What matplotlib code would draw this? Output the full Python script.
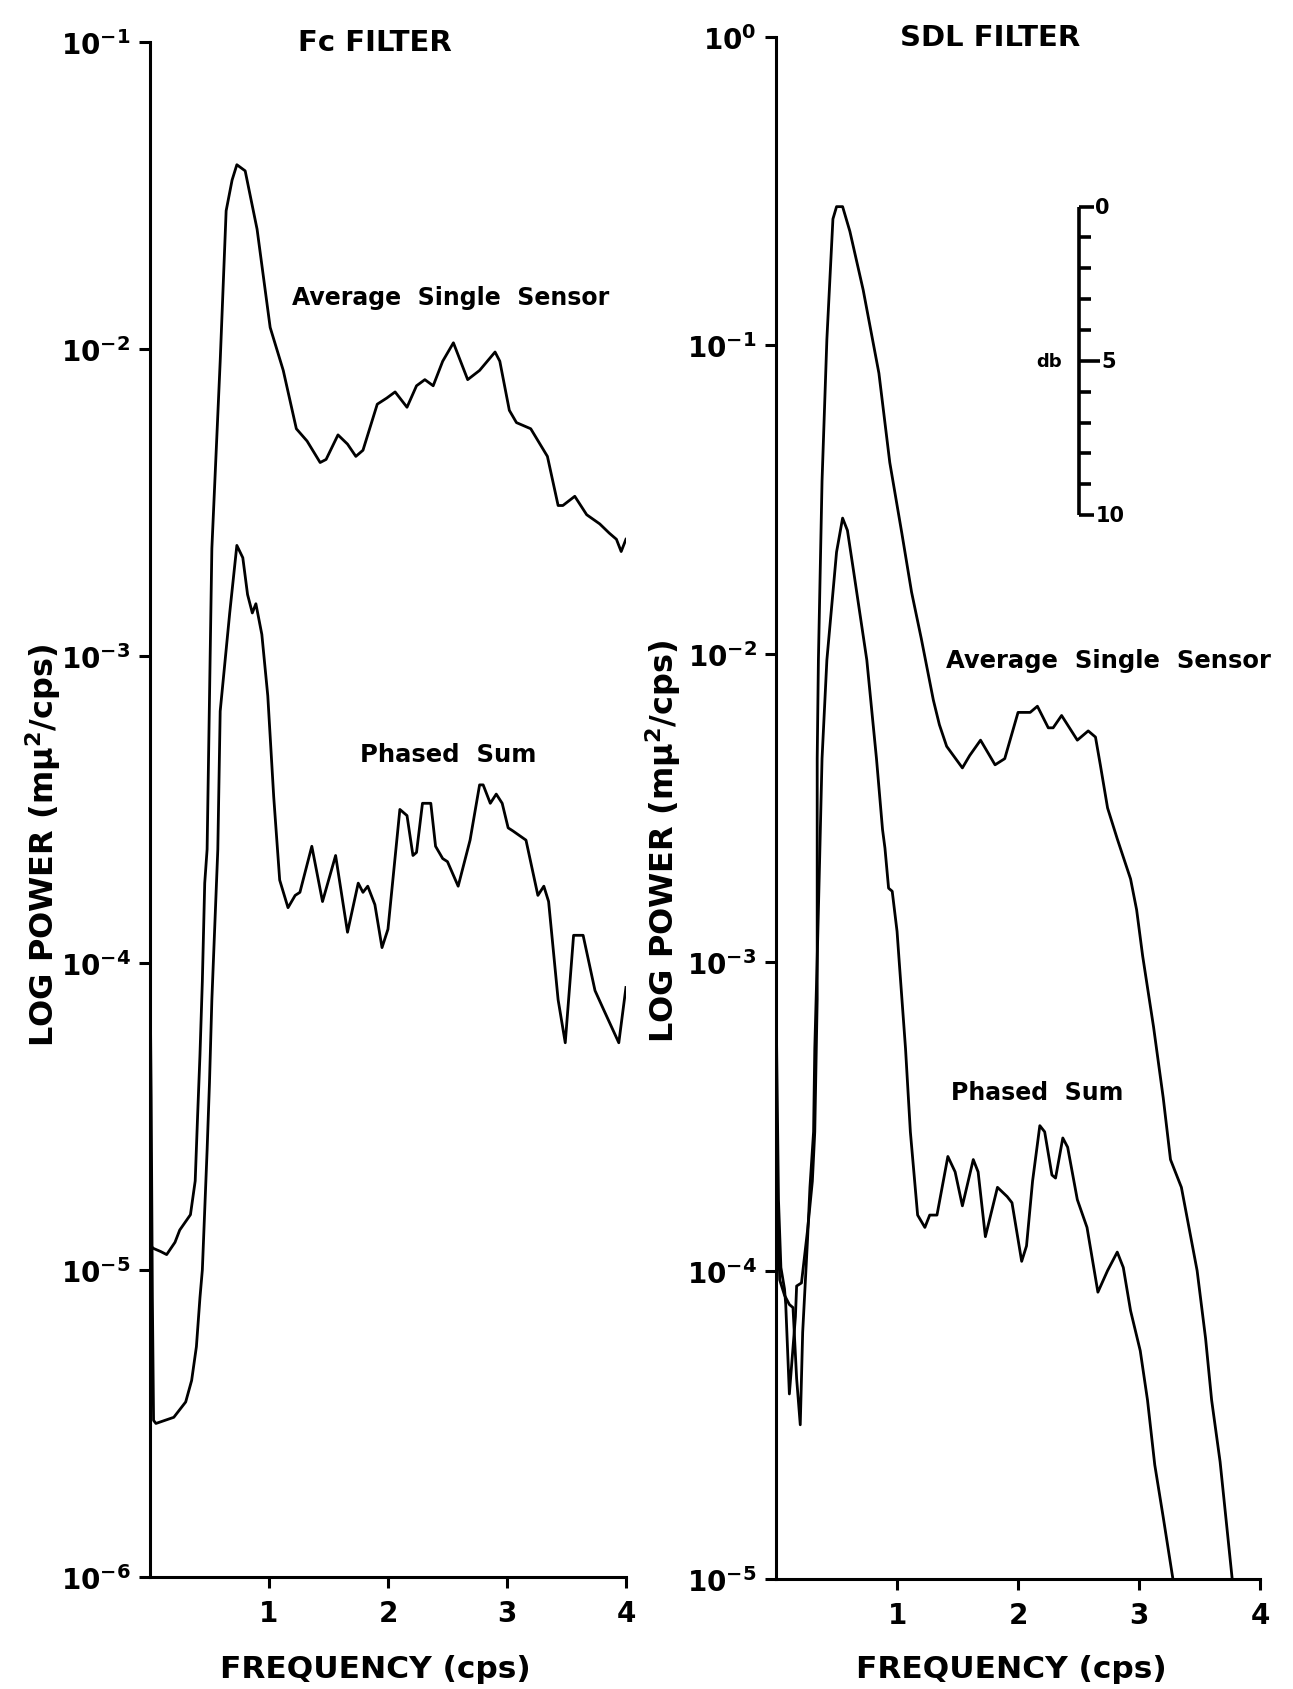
import numpy as np
import matplotlib
matplotlib.use("Agg")
import matplotlib.pyplot as plt

plt.rcParams['font.family'] = ['DejaVu Sans']
plt.rcParams['font.weight'] = 'bold'
plt.rcParams['mathtext.default'] = 'bf'

# Fc filter, average single sensor: frequency (cps) and log10 power
fc_single_freq = [0.00, 0.03, 0.09, 0.14, 0.21, 0.25, 0.34, 0.38, 0.40, 0.42,
                  0.44, 0.46, 0.48, 0.50, 0.52, 0.59, 0.64, 0.69, 0.73, 0.80,
                  0.90, 1.01, 1.12, 1.23, 1.32, 1.43, 1.48, 1.58, 1.66, 1.73,
                  1.79, 1.91, 1.99, 2.06, 2.16, 2.24, 2.31, 2.38, 2.46, 2.55,
                  2.67, 2.77, 2.90, 2.94, 3.02, 3.08, 3.20, 3.34, 3.43, 3.47,
                  3.57, 3.67, 3.78, 3.86, 3.92, 3.96, 4.00]
fc_single_logp = [-4.92, -4.93, -4.94, -4.95, -4.91, -4.87, -4.82, -4.71, -4.50, -4.30,
                  -4.06, -3.74, -3.63, -3.14, -2.65, -2.04, -1.55, -1.45, -1.40, -1.42,
                  -1.61, -1.93, -2.07, -2.26, -2.30, -2.37, -2.36, -2.28, -2.31, -2.35,
                  -2.33, -2.18, -2.16, -2.14, -2.19, -2.12, -2.10, -2.12, -2.04, -1.98,
                  -2.10, -2.07, -2.01, -2.04, -2.20, -2.24, -2.26, -2.35, -2.51, -2.51,
                  -2.48, -2.54, -2.57, -2.60, -2.62, -2.66, -2.62]

# Fc filter, phased sum
fc_phased_freq = [0.00, 0.01, 0.02, 0.03, 0.05, 0.20, 0.30, 0.35, 0.39, 0.42,
                  0.44, 0.48, 0.50, 0.52, 0.57, 0.59, 0.67, 0.73, 0.78, 0.82,
                  0.86, 0.89, 0.94, 0.99, 1.04, 1.09, 1.16, 1.22, 1.26, 1.36,
                  1.45, 1.56, 1.66, 1.75, 1.79, 1.83, 1.89, 1.95, 2.00, 2.10,
                  2.16, 2.21, 2.24, 2.29, 2.36, 2.40, 2.46, 2.50, 2.59, 2.69,
                  2.77, 2.80, 2.86, 2.91, 2.96, 3.01, 3.05, 3.16, 3.26, 3.31,
                  3.35, 3.43, 3.49, 3.56, 3.64, 3.74, 3.81, 3.94, 4.00]
fc_phased_logp = [-4.00, -4.44, -5.09, -5.49, -5.50, -5.48, -5.43, -5.36, -5.25, -5.09,
                  -5.00, -4.61, -4.39, -4.12, -3.63, -3.18, -2.86, -2.64, -2.68, -2.80,
                  -2.86, -2.83, -2.93, -3.13, -3.46, -3.73, -3.82, -3.78, -3.77, -3.62,
                  -3.80, -3.65, -3.90, -3.74, -3.77, -3.75, -3.81, -3.95, -3.89, -3.50,
                  -3.52, -3.65, -3.64, -3.48, -3.48, -3.62, -3.66, -3.67, -3.75, -3.60,
                  -3.42, -3.42, -3.48, -3.45, -3.48, -3.56, -3.57, -3.60, -3.78, -3.75,
                  -3.80, -4.12, -4.26, -3.91, -3.91, -4.09, -4.15, -4.26, -4.08]

# SDL filter, average single sensor
sdl_single_freq = [0.00, 0.02, 0.04, 0.07, 0.08, 0.11, 0.16, 0.17, 0.21, 0.26,
                   0.30, 0.32, 0.34, 0.34, 0.34, 0.35, 0.38, 0.42, 0.47, 0.50,
                   0.55, 0.61, 0.72, 0.85, 0.94, 1.04, 1.12, 1.20, 1.25, 1.30,
                   1.35, 1.41, 1.54, 1.60, 1.69, 1.81, 1.89, 2.00, 2.10, 2.16,
                   2.25, 2.29, 2.36, 2.49, 2.58, 2.64, 2.68, 2.74, 2.82, 2.93,
                   2.98, 3.03, 3.12, 3.20, 3.26, 3.35, 3.48, 3.55, 3.60, 3.67,
                   3.72, 3.77]
sdl_single_logp = [-3.12, -3.77, -3.99, -4.06, -4.11, -4.40, -4.15, -4.05, -4.04, -3.87,
                   -3.71, -3.55, -3.12, -2.63, -2.34, -2.02, -1.44, -0.98, -0.59, -0.55,
                   -0.55, -0.63, -0.82, -1.09, -1.38, -1.61, -1.80, -1.95, -2.05, -2.15,
                   -2.23, -2.30, -2.37, -2.33, -2.28, -2.36, -2.34, -2.19, -2.19, -2.17,
                   -2.24, -2.24, -2.20, -2.28, -2.25, -2.27, -2.36, -2.50, -2.60, -2.73,
                   -2.83, -2.98, -3.21, -3.44, -3.64, -3.73, -4.00, -4.22, -4.42, -4.62,
                   -4.81, -5.00]

# SDL filter, phased sum
sdl_phased_freq = [0.00, 0.03, 0.07, 0.11, 0.14, 0.17, 0.20, 0.22, 0.26, 0.28,
                   0.31, 0.32, 0.34, 0.36, 0.38, 0.42, 0.50, 0.55, 0.59, 0.64,
                   0.75, 0.83, 0.88, 0.90, 0.93, 0.96, 1.00, 1.02, 1.07, 1.11,
                   1.13, 1.17, 1.23, 1.27, 1.33, 1.42, 1.48, 1.54, 1.63, 1.67,
                   1.73, 1.83, 1.91, 1.95, 2.03, 2.07, 2.12, 2.18, 2.22, 2.28,
                   2.31, 2.37, 2.41, 2.49, 2.57, 2.66, 2.74, 2.82, 2.87, 2.93,
                   3.01, 3.07, 3.13, 3.20, 3.28]
sdl_phased_logp = [-3.61, -4.03, -4.08, -4.11, -4.12, -4.35, -4.50, -4.20, -3.90, -3.73,
                   -3.55, -3.28, -2.99, -2.67, -2.34, -2.02, -1.67, -1.56, -1.60, -1.73,
                   -2.02, -2.34, -2.57, -2.63, -2.76, -2.77, -2.90, -3.01, -3.28, -3.55,
                   -3.64, -3.82, -3.86, -3.82, -3.82, -3.63, -3.68, -3.79, -3.64, -3.68,
                   -3.89, -3.73, -3.76, -3.78, -3.97, -3.92, -3.71, -3.53, -3.55, -3.69,
                   -3.70, -3.57, -3.60, -3.77, -3.86, -4.07, -4.00, -3.94, -3.99, -4.13,
                   -4.26, -4.42, -4.63, -4.80, -5.00]

# axis ticks
freq_ticks = [1, 2, 3, 4]
fc_decades = [-6, -5, -4, -3, -2, -1]
sdl_decades = [-5, -4, -3, -2, -1, 0]

# db scale on the SDL panel (10 db = one decade)
db_steps = list(range(11))
db_labels = {0: '0', 5: '5', 10: '10'}


fig = plt.figure(figsize=(12.93, 16.90), dpi=100)
ax1 = fig.add_axes([0.1160, 0.0663, 0.3681, 0.9083])
ax2 = fig.add_axes([0.6002, 0.0651, 0.3743, 0.9124])


def styleAxis(ax, decades):
    """ Log power axis with only left and bottom lines, like the plotter output. """

    ax.set_yscale('log')
    ax.set_xlim(0, 4)
    ax.set_ylim(10.0**decades[0], 10.0**decades[-1])

    ax.spines['top'].set_visible(False)
    ax.spines['right'].set_visible(False)
    ax.spines['left'].set_linewidth(2.2)
    ax.spines['bottom'].set_linewidth(2.2)

    ax.set_xticks(freq_ticks)
    ax.set_xticklabels([str(t) for t in freq_ticks], fontsize=20, fontweight='bold')
    ax.set_yticks([10.0**d for d in decades])
    ax.set_yticklabels(['$10^{%d}$' % d for d in decades], fontsize=20)
    ax.minorticks_off()

    ax.tick_params(axis='both', direction='out', length=8, width=2.2)
    ax.tick_params(axis='x', pad=8)
    ax.tick_params(axis='y', pad=6)


styleAxis(ax1, fc_decades)
styleAxis(ax2, sdl_decades)

# Fc filter curves
ax1.plot(fc_single_freq, 10**np.array(fc_single_logp), color='black', lw=2.0)
ax1.plot(fc_phased_freq, 10**np.array(fc_phased_logp), color='black', lw=2.0)

ax1.text(2.53, 10**-1.83, 'Average  Single  Sensor', fontsize=17, fontweight='bold',
         ha='center', va='center')
ax1.text(2.51, 10**-3.32, 'Phased  Sum', fontsize=17.5, fontweight='bold',
         ha='center', va='center')

# SDL filter curves
ax2.plot(sdl_single_freq, 10**np.array(sdl_single_logp), color='black', lw=2.0)
ax2.plot(sdl_phased_freq, 10**np.array(sdl_phased_logp), color='black', lw=2.0)

ax2.text(2.75, 10**-2.02, 'Average  Single  Sensor', fontsize=17.5, fontweight='bold',
         ha='center', va='center', clip_on=False)
ax2.text(2.16, 10**-3.42, 'Phased  Sum', fontsize=17, fontweight='bold',
         ha='center', va='center')

# db scale bar
db_x = 2.5
db_top = -0.55
ax2.plot([db_x, db_x], [10**db_top, 10**(db_top - 1)], color='black', lw=2.6,
         solid_capstyle='butt')
for d in db_steps:
    level = 10**(db_top - d / 10)
    if d == 5:
        tl = 0.18
    elif d in db_labels:
        tl = 0.13
    else:
        tl = 0.10
    ax2.plot([db_x, db_x + tl], [level, level], color='black', lw=2.6,
             solid_capstyle='butt')
    if d in db_labels:
        ax2.text(db_x + tl + 0.01, level, db_labels[d], fontsize=15, fontweight='bold',
                 ha='left', va='center')
ax2.text(db_x - 0.14, 10**(db_top - 0.5), 'db', fontsize=13, fontweight='bold',
         ha='right', va='center')

# titles and axis names
fig.text(0.290, 0.9746, 'Fc FILTER', fontsize=21, fontweight='bold', ha='center', va='center')
fig.text(0.7657, 0.9775, 'SDL FILTER', fontsize=21, fontweight='bold', ha='center', va='center')

fig.text(0.033, 0.500, 'LOG POWER (mμ$^{2}$/cps)', fontsize=23, fontweight='bold',
         rotation=90, ha='center', va='center')
fig.text(0.513, 0.502, 'LOG POWER (mμ$^{2}$/cps)', fontsize=23, fontweight='bold',
         rotation=90, ha='center', va='center')

fig.text(0.290, 0.007, 'FREQUENCY (cps)', fontsize=22.5, fontweight='bold',
         ha='center', va='baseline')
fig.text(0.782, 0.007, 'FREQUENCY (cps)', fontsize=22.5, fontweight='bold',
         ha='center', va='baseline')

plt.savefig('out.png', dpi=100)
